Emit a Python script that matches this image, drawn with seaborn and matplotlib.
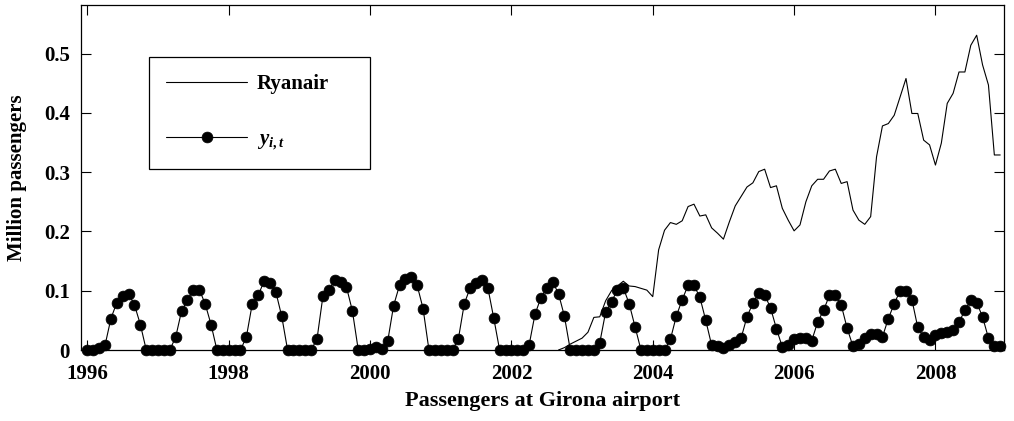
import numpy as np
import pandas as pd
import matplotlib
matplotlib.use("Agg")
import matplotlib.pyplot as plt
import seaborn as sns

# ---------------- data (million passengers, monthly) ----------------
years = list(range(1996, 2009))

y_1996 = [0, 0, 0.003, 0.008, 0.053, 0.080, 0.091, 0.095, 0.076, 0.043, 0, 0]
y_1997 = [0, 0, 0, 0.022, 0.066, 0.084, 0.102, 0.102, 0.078, 0.043, 0, 0]
y_1998 = [0, 0, 0, 0.022, 0.078, 0.092, 0.116, 0.113, 0.098, 0.057, 0, 0]
y_1999 = [0, 0, 0, 0.019, 0.091, 0.101, 0.118, 0.115, 0.106, 0.066, 0, 0]
y_2000 = [0.002, 0.005, 0.002, 0.015, 0.075, 0.109, 0.120, 0.123, 0.109, 0.070, 0, 0]
y_2001 = [0, 0, 0, 0.019, 0.078, 0.105, 0.113, 0.118, 0.105, 0.054, 0, 0]
y_2002 = [0, 0, 0, 0.008, 0.060, 0.088, 0.105, 0.115, 0.095, 0.057, 0, 0]
y_2003 = [0, 0, 0, 0.012, 0.064, 0.081, 0.102, 0.105, 0.078, 0.039, 0, 0]
y_2004 = [0, 0, 0, 0.018, 0.057, 0.085, 0.109, 0.109, 0.089, 0.050, 0.008, 0.007]
y_2005 = [0.003, 0.009, 0.014, 0.020, 0.056, 0.079, 0.097, 0.093, 0.071, 0.036, 0.005, 0.009]
y_2006 = [0.019, 0.020, 0.020, 0.016, 0.047, 0.067, 0.092, 0.092, 0.076, 0.037, 0.006, 0.010]
y_2007 = [0.021, 0.027, 0.027, 0.022, 0.053, 0.078, 0.100, 0.100, 0.085, 0.038, 0.022, 0.017]
y_2008 = [0.025, 0.028, 0.031, 0.034, 0.047, 0.067, 0.084, 0.080, 0.056, 0.020, 0.006, 0.006]

# Ryanair series starts September 2002
ryanair_start = (2002, 9)
ry_2002 = [0.0, 0.004, 0.010, 0.015]
ry_2003 = [0.020, 0.030, 0.055, 0.056, 0.083, 0.100, 0.108, 0.116, 0.108, 0.107, 0.104, 0.101]
ry_2004 = [0.090, 0.169, 0.202, 0.215, 0.212, 0.218, 0.242, 0.246, 0.226, 0.228, 0.206, 0.197]
ry_2005 = [0.187, 0.216, 0.243, 0.259, 0.275, 0.282, 0.301, 0.305, 0.274, 0.277, 0.239, 0.219]
ry_2006 = [0.201, 0.211, 0.250, 0.277, 0.288, 0.288, 0.302, 0.305, 0.281, 0.284, 0.236, 0.219]
ry_2007 = [0.212, 0.225, 0.326, 0.378, 0.382, 0.396, 0.427, 0.458, 0.399, 0.399, 0.354, 0.346]
ry_2008 = [0.312, 0.349, 0.416, 0.433, 0.469, 0.469, 0.514, 0.531, 0.481, 0.447, 0.329, 0.329]

x_ticks = [1996, 1998, 2000, 2002, 2004, 2006, 2008]
y_ticks = [0, 0.1, 0.2, 0.3, 0.4, 0.5]
y_ticklabels = ["0", "0.1", "0.2", "0.3", "0.4", "0.5"]
x_label = "Passengers at Girona airport"
y_label = "Million passengers"
label_ryanair = "Ryanair"
label_y = r"$y_{i,t}$"

# ---------------- build tables ----------------
y_vals = (y_1996 + y_1997 + y_1998 + y_1999 + y_2000 + y_2001 + y_2002 +
          y_2003 + y_2004 + y_2005 + y_2006 + y_2007 + y_2008)
t_all = [yr + m / 12 for yr in years for m in range(12)]
df_y = pd.DataFrame({"t": t_all, "v": y_vals})

ry_vals = ry_2002 + ry_2003 + ry_2004 + ry_2005 + ry_2006 + ry_2007 + ry_2008
t0 = ryanair_start[0] + (ryanair_start[1] - 1) / 12
t_ry = [t0 + i / 12 for i in range(len(ry_vals))]
df_r = pd.DataFrame({"t": t_ry, "v": ry_vals})

# ---------------- style ----------------
sns.set_style("ticks")
plt.rcParams["font.family"] = ["Liberation Serif", "DejaVu Serif"]
plt.rcParams["font.weight"] = "bold"
plt.rcParams["text.color"] = "black"
plt.rcParams["axes.labelcolor"] = "black"
plt.rcParams["xtick.color"] = "black"
plt.rcParams["ytick.color"] = "black"
plt.rcParams["mathtext.fontset"] = "custom"
plt.rcParams["mathtext.it"] = "Liberation Serif:italic:bold"
plt.rcParams["mathtext.rm"] = "Liberation Serif:bold"
plt.rcParams["mathtext.bf"] = "Liberation Serif:bold"

fig = plt.figure(figsize=(10.14, 4.21), dpi=100)
ax = fig.add_axes([81 / 1014, 71 / 421, 923 / 1014, 345 / 421])

sns.lineplot(data=df_r, x="t", y="v", ax=ax, color="black", linewidth=0.8,
             label=label_ryanair, zorder=2)
sns.lineplot(data=df_y, x="t", y="v", ax=ax, color="black", linewidth=0.8,
             marker="o", markersize=7.8, markeredgecolor="black",
             markeredgewidth=0.5, label=label_y, zorder=3, clip_on=False)

ax.set_xlim(1995.91, 2008.97)
ax.set_ylim(0, 0.582)
ax.set_xticks(x_ticks)
ax.set_xticklabels([str(v) for v in x_ticks])
ax.set_yticks(y_ticks)
ax.set_yticklabels(y_ticklabels)

ax.tick_params(direction="in", length=7, width=0.8, top=True, right=True,
               labelsize=15, pad=8, colors="black", labelcolor="black")
ax.tick_params(axis="x", pad=10)
for s in ax.spines.values():
    s.set_visible(True)
    s.set_linewidth(0.9)
    s.set_color("black")

ax.set_xlabel(x_label, fontsize=16, fontweight="bold", labelpad=5, color="black")
ax.set_ylabel(y_label, fontsize=15, fontweight="bold", labelpad=12, color="black")

leg_w = (370 - 149) / 923
leg_x = (149 - 81) / 923
leg_top = (350 - 57) / 345
leg = ax.legend(loc="upper left", bbox_to_anchor=(leg_x, leg_top - 0.3, leg_w, 0.3),
                mode="expand", borderaxespad=0, frameon=True, fancybox=False,
                edgecolor="black", framealpha=1, fontsize=15, handlelength=3.9,
                handletextpad=0.45, labelspacing=1.7, borderpad=0.82, numpoints=1)
leg.get_frame().set_linewidth(0.9)
for t in leg.get_texts():
    t.set_fontweight("bold")
    t.set_color("black")

fig.savefig("out.png", dpi=100)
